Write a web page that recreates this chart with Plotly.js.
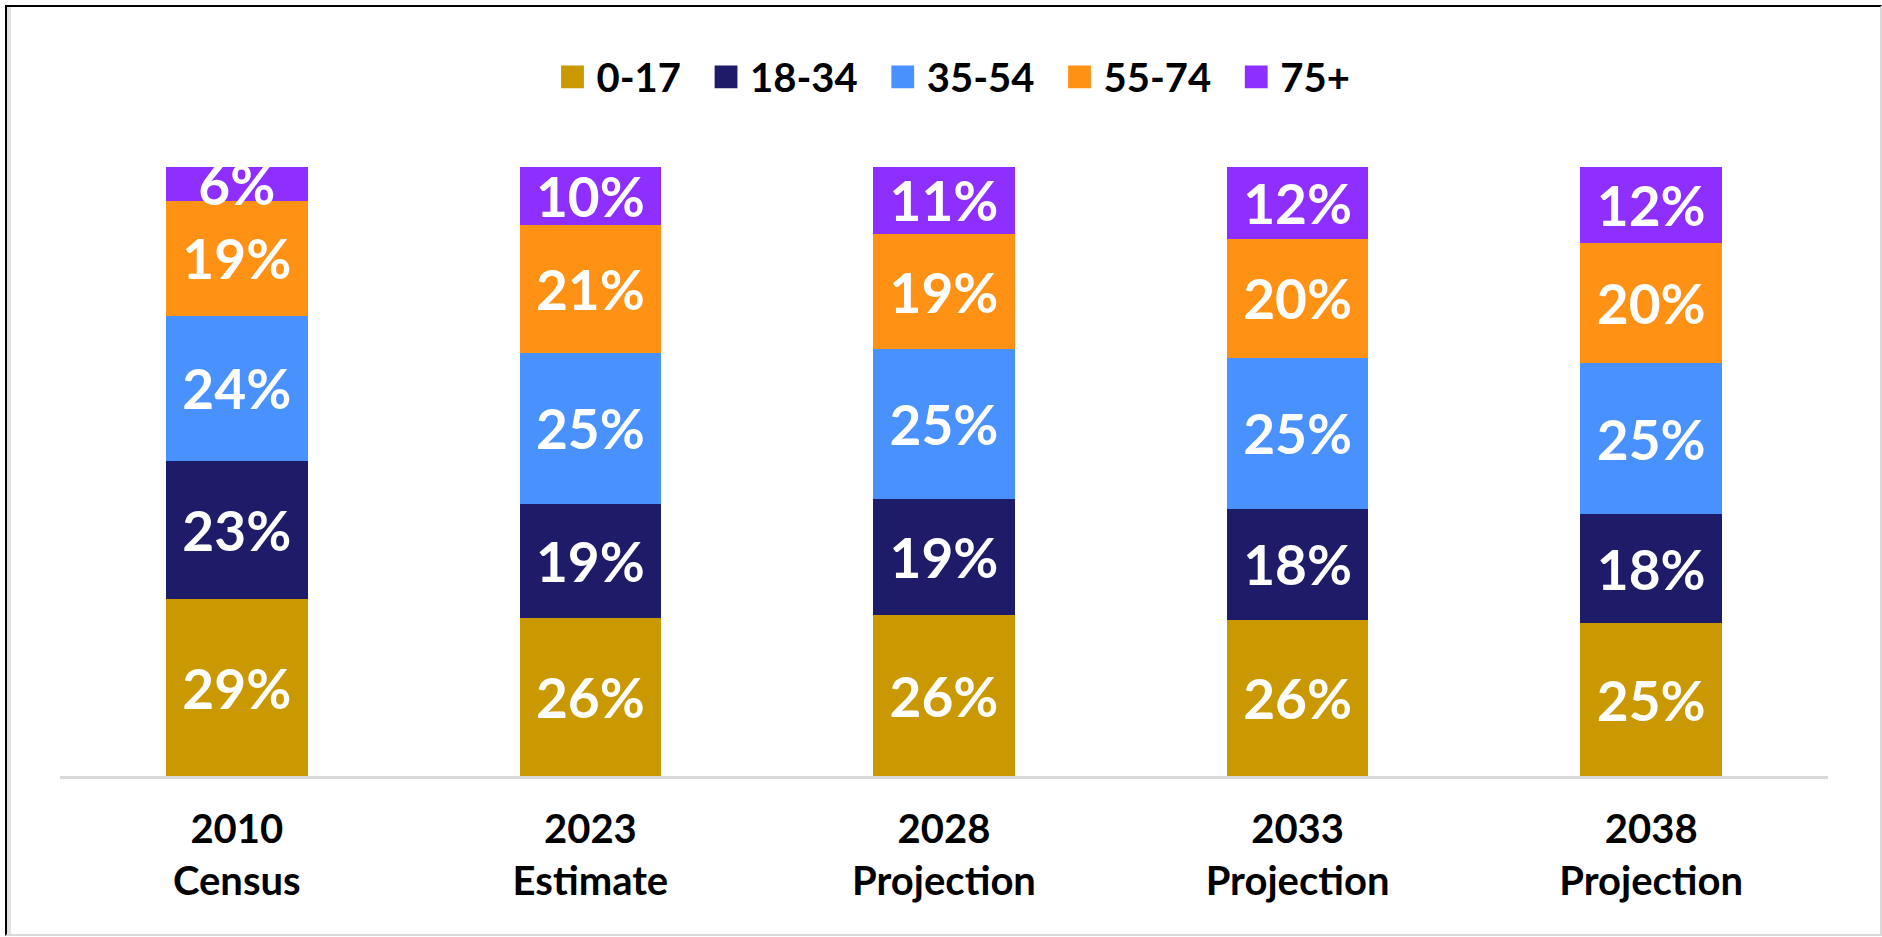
<!DOCTYPE html>
<html>
<head>
<meta charset="utf-8">
<script src="https://cdn.plot.ly/plotly-3.0.1.min.js"></script>
<style>
  html, body { margin: 0; padding: 0; background: #fff; }
  #wrap { position: relative; width: 1882px; height: 937px; }
  #chart { width: 1882px; height: 937px; }
  #frame {
    position: absolute; left: 5px; top: 5px; width: 1873px; height: 927px;
    border-left: 2px solid #000; border-top: 2px solid #000;
    border-right: 2px solid #d9d9d9; border-bottom: 2px solid #d9d9d9;
    box-shadow: inset 4px 0 0 #e2e2e2;
    pointer-events: none;
  }
</style>
</head>
<body>
<div id="wrap">
  <div id="chart"></div>
  <div id="frame"></div>
</div>
<script>
// Categories (x-axis tick labels)
const categories = ["2010<br>Census", "2023<br>Estimate", "2028<br>Projection", "2033<br>Projection", "2038<br>Projection"];

// Series names
const seriesNames = ["0-17", "18-34", "35-54", "55-74", "75+"];

// Share of population (%) by age group
const age0_17  = [29.0, 25.9, 26.4, 25.6, 25.1];
const age18_34 = [22.7, 18.8, 19.1, 18.3, 17.9];
const age35_54 = [23.9, 24.8, 24.6, 24.8, 24.8];
const age55_74 = [18.8, 20.9, 18.9, 19.5, 19.8];
const age75p   = [5.6,  9.6,  11.0, 11.8, 12.4];

const seriesValues = [age0_17, age18_34, age35_54, age55_74, age75p];
const seriesColors = ["#CA9800", "#1E1B69", "#4891FE", "#FF9214", "#8F2FFF"];

const traces = seriesNames.map((name, i) => ({
  type: "bar",
  name: name,
  x: categories,
  y: seriesValues[i],
  marker: { color: seriesColors[i], line: { width: 0 } },
  texttemplate: "%{y:.0f}%",
  textposition: "inside",
  insidetextanchor: "middle",
  constraintext: "none",
  insidetextfont: { family: "Lato", size: 55, color: "#ffffff", weight: 700 },
  cliponaxis: true,
  hoverinfo: "skip"
}));

const layout = {
  width: 1882,
  height: 937,
  barmode: "stack",
  bargap: 0.6,
  paper_bgcolor: "#ffffff",
  plot_bgcolor: "#ffffff",
  margin: { l: 60, r: 54, t: 167, b: 161 },
  font: { family: "Lato", color: "#000000" },
  showlegend: true,
  legend: {
    orientation: "h",
    xref: "paper", x: 0.5, xanchor: "center",
    yref: "container", y: 0.918, yanchor: "middle",
    font: { family: "Lato", size: 40, color: "#000000", weight: 700 },
    traceorder: "normal",
    itemwidth: 54,
    bgcolor: "rgba(0,0,0,0)"
  },
  xaxis: {
    type: "category",
    showline: true,
    linecolor: "#d9d9d9",
    linewidth: 3,
    ticks: "",
    ticklabelstandoff: 16,
    showgrid: false,
    zeroline: false,
    tickfont: { family: "Lato", size: 40, color: "#000000", weight: 700 }
  },
  yaxis: {
    range: [0, 100],
    showgrid: false,
    zeroline: false,
    showticklabels: false,
    showline: false,
    ticks: ""
  }
};

Plotly.newPlot("chart", traces, layout, { staticPlot: true, displayModeBar: false }).then(gd => {
  // enlarge legend swatches and place them next to their labels, as in the reference
  document.querySelectorAll("#chart .legend .legendpoints path").forEach(p => {
    const t = p.getAttribute("transform") || "";
    p.setAttribute("transform", t + " translate(8,0) scale(1.9)");
  });
});
</script>
</body>
</html>
